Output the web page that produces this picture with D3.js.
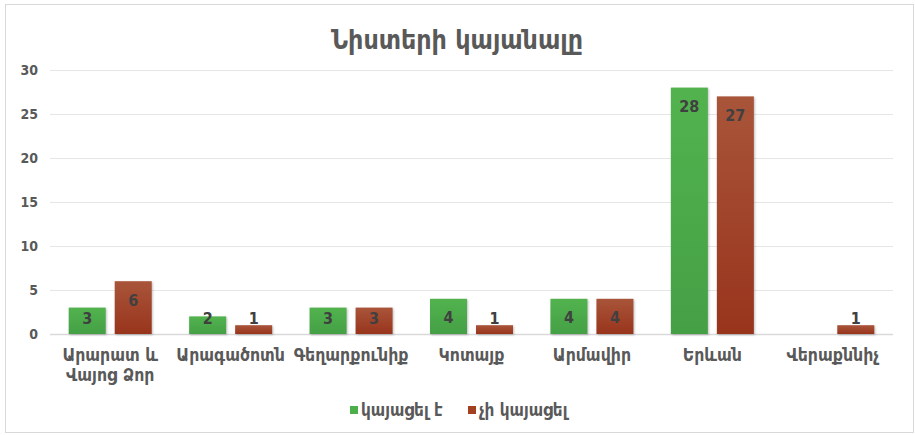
<!DOCTYPE html>
<html>
<head>
<meta charset="utf-8">
<script src="https://cdn.jsdelivr.net/npm/d3@7"></script>
<style>
    body { margin: 0; background: #fff; }
    text { font-family: "DejaVu Sans Condensed", "DejaVu Sans", sans-serif; }
</style>
</head>
<body>
<div class="bar_chart"></div>
<script>
// data
const regions = [["Արարատ և", "Վայոց Ձոր"], ["Արագածոտն"], ["Գեղարքունիք"], ["Կոտայք"], ["Արմավիր"], ["Երևան"], ["Վերաքննիչ"]];
const held = [3, 2, 3, 4, 4, 28, null];
const notHeld = [6, 1, 3, 1, 4, 27, 1];
const seriesNames = ["կայացել է", "չի կայացել"];
const yTicks = [0, 5, 10, 15, 20, 25, 30];

const margin = { top: 70, right: 22, bottom: 101, left: 50 },
    width = 915 - margin.left - margin.right,
    height = 435 - margin.top - margin.bottom;

let svg = d3.select('.bar_chart')
    .append('svg')
    .attr('width', 915)
    .attr('height', 435);

// gradients for bars
let defs = svg.append('defs');
const grads = [["gGreen", "#52b34e", "#45a045"], ["gRed", "#a9553a", "#98341c"]];
grads.forEach(g => {
    let lg = defs.append('linearGradient').attr('id', g[0])
        .attr('x1', 0).attr('y1', 0).attr('x2', 0).attr('y2', 1);
    lg.append('stop').attr('offset', '0%').attr('stop-color', g[1]);
    lg.append('stop').attr('offset', '100%').attr('stop-color', g[2]);
});
const colors = ["url(#gGreen)", "url(#gRed)"];
const swatch = ["#4caf4a", "#a2401f"];

// frame
svg.append('rect')
    .attr('x', 5.5).attr('y', 4.5)
    .attr('width', 908).attr('height', 428)
    .attr('fill', 'none')
    .attr('stroke', '#d9d9d9');

svg.append('text')
    .attr('x', 457)
    .attr('y', 49)
    .attr('text-anchor', 'middle')
    .attr('font-size', 26.5)
    .attr('font-weight', 'bold')
    .attr('fill', '#595959')
    .text('Նիստերի կայանալը');

let group = svg.append('g')
    .attr('transform', 'translate(' + margin.left + ',' + margin.top + ')');

let xScale = d3.scaleBand()
    .domain(d3.range(regions.length))
    .range([0, width]);

let yScale = d3.scaleLinear()
    .domain([0, 30])
    .range([height, 0]);

// gridlines
group.append('g')
    .selectAll('line')
    .data(yTicks)
    .join('line')
    .attr('x1', 0).attr('x2', width)
    .attr('y1', d => yScale(d) + 0.5).attr('y2', d => yScale(d) + 0.5)
    .attr('stroke', d => d === 0 ? '#d9d9d9' : '#e6e6e6')
    .attr('stroke-width', d => d === 0 ? 1.5 : 1);

const yAxis = d3.axisLeft(yScale).tickValues(yTicks).tickSize(0).tickPadding(12);
let yDisplay = group.append('g').attr('class', 'axis y-axis').call(yAxis);
yDisplay.select('.domain').remove();
yDisplay.selectAll('text')
    .attr('font-family', '"DejaVu Sans", sans-serif')
    .attr('font-weight', 'bold')
    .attr('font-size', 14)
    .attr('fill', '#595959');

const barW = 37, gap = 9;
const series = [held, notHeld];

series.forEach((vals, s) => {
    let data = vals.map((v, i) => ({ i: i, v: v })).filter(d => d.v !== null);
    let xOff = s === 0 ? -(barW + gap / 2) : gap / 2;
    group.append('g')
        .selectAll('rect')
        .data(data)
        .join('rect')
        .attr('x', d => xScale(d.i) + xScale.bandwidth() / 2 + xOff)
        .attr('y', d => yScale(d.v))
        .attr('width', barW)
        .attr('height', d => yScale(0) - yScale(d.v))
        .attr('fill', colors[s])
        .style('filter', 'drop-shadow(1px 1px 1px rgba(0,0,0,0.25))');

    group.append('g')
        .selectAll('text')
        .data(data)
        .join('text')
        .attr('x', d => xScale(d.i) + xScale.bandwidth() / 2 + xOff + barW / 2)
        .attr('y', d => Math.min(yScale(d.v) + 19, yScale(0) - 16))
        .attr('dy', '0.35em')
        .attr('text-anchor', 'middle')
        .attr('font-family', '"DejaVu Sans", sans-serif')
        .attr('font-weight', 'bold')
        .attr('font-size', 16)
        .attr('fill', '#404040')
        .text(d => d.v);
});

// category labels
let xLabels = group.append('g')
    .selectAll('text')
    .data(regions)
    .join('text')
    .attr('x', (d, i) => xScale(i) + xScale.bandwidth() / 2)
    .attr('y', height + 27)
    .attr('text-anchor', 'middle')
    .attr('font-size', 17.5)
    .attr('font-weight', 'bold')
    .attr('fill', '#595959');
xLabels.selectAll('tspan')
    .data(d => d)
    .join('tspan')
    .attr('x', function () { return d3.select(this.parentNode).attr('x'); })
    .attr('dy', (d, i) => i === 0 ? 0 : 20)
    .text(d => d);

// legend
const legendX = [350, 468];
let legend = svg.append('g');
seriesNames.forEach((name, s) => {
    legend.append('rect')
        .attr('x', legendX[s]).attr('y', 406)
        .attr('width', 8).attr('height', 8)
        .attr('fill', swatch[s]);
    legend.append('text')
        .attr('x', legendX[s] + 11).attr('y', 410)
        .attr('dy', '0.35em')
        .attr('font-size', 17)
        .attr('font-weight', 'bold')
        .attr('fill', '#595959')
        .text(name);
});
</script>
</body>
</html>
